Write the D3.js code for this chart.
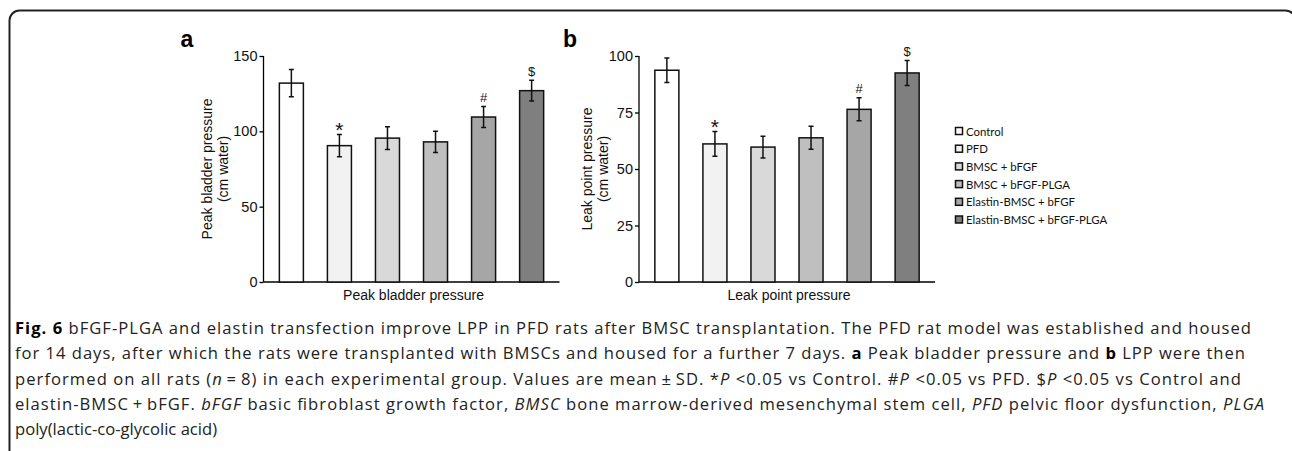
<!DOCTYPE html>
<html>
<head>
<meta charset="utf-8">
<script src="https://cdn.jsdelivr.net/npm/d3@7"></script>
<style>
	body { margin: 0; background: #fff; }
	svg { display: block; }
	.axis path, .axis line { stroke: #000; stroke-width: 1.3px; }
	.axis text { font-family: "Liberation Sans", Arial, sans-serif; font-size: 14.5px; fill: #111; }
</style>
</head>
<body>
<div id="fig"></div>
<script>
var groups = ["Control", "PFD", "BMSC + bFGF", "BMSC + bFGF-PLGA", "Elastin-BMSC + bFGF", "Elastin-BMSC + bFGF-PLGA"];
var fills = ["#ffffff", "#f2f2f2", "#d9d9d9", "#bfbfbf", "#a6a6a6", "#7f7f7f"];

var peakMean = [132, 90.5, 95.5, 93, 109.5, 127];
var peakSD = [9, 7.4, 7.6, 7.1, 6.9, 6.9];
var peakTicks = [0, 50, 100, 150];

var lppMean = [93.7, 61.1, 59.7, 63.8, 76.4, 92.5];
var lppSD = [5.4, 5.5, 4.8, 5.1, 5.1, 5.5];
var lppTicks = [0, 25, 50, 75, 100];

var marks = ["", "*", "", "", "#", "$"];

var width = 1292,
	height = 451,
	top0 = 56,
	bottom0 = 282;

var svg = d3.select("#fig").append("svg")
	.attr("width", width)
	.attr("height", height);

// frame round the figure
svg.append("rect")
	.attr("x", 9.5).attr("y", 10.5)
	.attr("width", 1286).attr("height", 520)
	.attr("rx", 10)
	.attr("fill", "none")
	.attr("stroke", "#222")
	.attr("stroke-width", 2);

function panel(p) {
	var g = svg.append("g").attr("transform", "translate(" + p.left + ",0)");

	var y = d3.scaleLinear().domain([0, p.max]).range([bottom0, top0]);
	var x = d3.scaleBand().domain(groups).range([0, 296]).paddingInner(0.5).paddingOuter(0.33);

	g.append("g")
		.attr("class", "axis")
		.call(d3.axisLeft(y).tickValues(p.ticks).tickSize(4).tickPadding(2))
		.call(function(a) { a.select(".domain").attr("d", "M0," + y(p.max) + "V" + y(0)); });

	g.append("g")
		.attr("class", "axis")
		.attr("transform", "translate(0," + y(0) + ")")
		.call(d3.axisBottom(x).tickSize(0).tickFormat(""))
		.call(function(a) { a.select(".domain").attr("d", "M0,0H" + x.range()[1]); });

	var bars = g.selectAll(".bar").data(p.mean).enter().append("g").attr("class", "bar");

	bars.append("rect")
		.attr("x", function(d, i) { return x(groups[i]); })
		.attr("y", function(d) { return y(d); })
		.attr("width", x.bandwidth())
		.attr("height", function(d) { return y(0) - y(d); })
		.attr("fill", function(d, i) { return fills[i]; })
		.attr("stroke", "#111")
		.attr("stroke-width", 1.5);

	// error bars
	bars.append("path")
		.attr("d", function(d, i) {
			var cx = x(groups[i]) + x.bandwidth() / 2,
				t = y(d + p.sd[i]), b = y(d - p.sd[i]);
			return "M" + cx + "," + t + "V" + b + "M" + (cx - 2.5) + "," + t + "H" + (cx + 2.5) + "M" + (cx - 2.5) + "," + b + "H" + (cx + 2.5);
		})
		.attr("fill", "none")
		.attr("stroke", "#111")
		.attr("stroke-width", 1.5);

	bars.append("text")
		.attr("x", function(d, i) { return x(groups[i]) + x.bandwidth() / 2; })
		.attr("y", function(d, i) { return y(d + p.sd[i]) - (marks[i] == "*" ? -3 : 4.5); })
		.attr("text-anchor", "middle")
		.style("font-family", "Liberation Sans, Arial, sans-serif")
		.style("font-size", function(d, i) { return marks[i] == "*" ? "21px" : "13px"; })
		.attr("fill", "#111")
		.text(function(d, i) { return marks[i]; });

	// axis titles
	var yt = g.append("text")
		.attr("transform", "translate(" + p.titleX + "," + (top0 + bottom0) / 2 + ") rotate(-90)")
		.attr("text-anchor", "middle")
		.style("font-family", "Liberation Sans, Arial, sans-serif")
		.style("font-size", "14px")
		.attr("fill", "#111");
	yt.append("tspan").attr("x", 0).attr("y", 0).text(p.yTitle);
	yt.append("tspan").attr("x", 0).attr("y", 16).text("(cm water)");

	g.append("text")
		.attr("x", x.range()[1] / 2 + 2)
		.attr("y", 300)
		.attr("text-anchor", "middle")
		.style("font-family", "Liberation Sans, Arial, sans-serif")
		.style("font-size", "14px")
		.attr("fill", "#111")
		.text(p.xTitle);

	g.append("text")
		.attr("x", p.letterX)
		.attr("y", 47)
		.style("font-family", "Liberation Sans, Arial, sans-serif")
		.style("font-size", "23px")
		.style("font-weight", "bold")
		.attr("fill", "#000")
		.text(p.letter);
}

panel({left: 263.5, max: 150, ticks: peakTicks, mean: peakMean, sd: peakSD,
	yTitle: "Peak bladder pressure", xTitle: "Peak bladder pressure", titleX: -52, letterX: -83, letter: "a"});
panel({left: 639, max: 100, ticks: lppTicks, mean: lppMean, sd: lppSD,
	yTitle: "Leak point pressure", xTitle: "Leak point pressure", titleX: -47, letterX: -76, letter: "b"});

/* legend */

var legend = svg.append("g").attr("transform", "translate(955,131)");

var item = legend.selectAll(".item").data(groups).enter().append("g")
	.attr("transform", function(d, i) { return "translate(0," + i * 17.7 + ")"; });

item.append("rect")
	.attr("x", 0.5).attr("y", -3.5)
	.attr("width", 7).attr("height", 7)
	.attr("fill", function(d, i) { return fills[i]; })
	.attr("stroke", "#111")
	.attr("stroke-width", 1.5);

item.append("text")
	.attr("x", 11)
	.attr("y", 4.5)
	.style("font-family", "Lato, sans-serif")
	.style("font-size", "11.4px")
	.attr("fill", "#111")
	.text(function(d) { return d; });

/* caption */

var caption = [
	[["b", "Fig. 6"], ["", " bFGF-PLGA and elastin transfection improve LPP in PFD rats after BMSC transplantation. The PFD rat model was established and housed"]],
	[["", "for 14 days, after which the rats were transplanted with BMSCs and housed for a further 7 days. "], ["b", "a"], ["", " Peak bladder pressure and "], ["b", "b"], ["", " LPP were then"]],
	[["", "performed on all rats ("], ["i", "n"], ["", "\u2009=\u20098) in each experimental group. Values are mean\u2009\u00b1\u2009SD. *"], ["i", "P"], ["", " <0.05 vs Control. #"], ["i", "P"], ["", " <0.05 vs PFD. $"], ["i", "P"], ["", " <0.05 vs Control and"]],
	[["", "elastin-BMSC\u2009+\u2009bFGF. "], ["i", "bFGF"], ["", " basic fibroblast growth factor, "], ["i", "BMSC"], ["", " bone marrow-derived mesenchymal stem cell, "], ["i", "PFD"], ["", " pelvic floor dysfunction, "], ["i", "PLGA"]],
	[["", "poly(lactic-co-glycolic acid)"]]
];
var captionWidth = [1236, 1230, 1226, 1249, 0];

caption.forEach(function(line, li) {
	var t = svg.append("text")
		.attr("x", 15)
		.attr("y", 334 + li * 25.3)
		.style("font-family", "Open Sans, sans-serif")
		.style("font-size", "16.6px")
		.attr("fill", "#222");
	line.forEach(function(s) {
		t.append("tspan")
			.style("font-weight", s[0] == "b" ? "bold" : null)
			.style("font-style", s[0] == "i" ? "italic" : null)
			.attr("fill", s[0] == "b" ? "#000" : null)
			.text(s[1]);
	});
	if (captionWidth[li]) t.attr("textLength", captionWidth[li]).attr("lengthAdjust", "spacing");
});
</script>
</body>
</html>
